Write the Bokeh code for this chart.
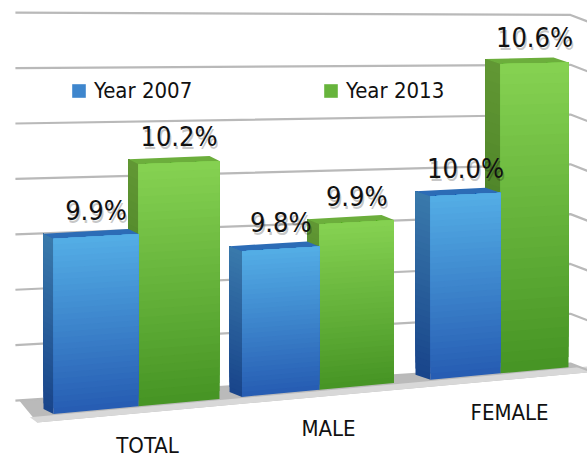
import numpy as np
from bokeh.plotting import figure
from bokeh.models import Range1d, Legend, LegendItem, ColumnDataSource
from bokeh.core.properties import value
from bokeh.embed import file_html
from bokeh.resources import INLINE

# ---------------- data ----------------
categories = ["TOTAL", "MALE", "FEMALE"]
series = ["Year 2007", "Year 2013"]
year2007 = [9.9, 9.8, 10.0]
year2013 = [10.2, 9.9, 10.6]
grid_values = [9.2, 9.4, 9.6, 9.8, 10.0, 10.2, 10.4, 10.6]

# ---------------- style ----------------
FONT = "DejaVu Sans Condensed"
W, H = 587, 459
PX_T = 181.0      # pixels per category step
PX_V = 232.8      # pixels per value unit
X_RANGE = (-138 / PX_T, 449 / PX_T)
Y_RANGE = (8.9315, 10.903)
BASE = 9.16       # floor value of the bars

BLUE_FRONT = ((84, 174, 230), (38, 92, 178))
BLUE_SIDE = ((58, 122, 172), (24, 68, 138))
BLUE_TOP = (44, 108, 182)
GREEN_FRONT = ((134, 210, 82), (70, 148, 36))
GREEN_SIDE = ((98, 152, 52), (56, 110, 28))
GREEN_TOP = (108, 174, 60)


def mix(c1, c2, f):
    return "#%02x%02x%02x" % tuple(int(round(a + (b - a) * f)) for a, b in zip(c1, c2))


def proj(t, v):
    """bar plane: mild perspective tilt"""
    return BASE + (v - BASE) * (1 - 0.0385 * t) + 0.0708 * t


def wall(t, v):
    """back wall plane for gridlines"""
    return 9.2200 + 0.05182 * t + (v - 9.2) * (1.1632 - 0.03924 * t)


p = figure(width=W, height=H, x_range=Range1d(*X_RANGE), y_range=Range1d(*Y_RANGE),
           output_backend="svg", toolbar_location=None, min_border=0)
p.axis.visible = False
p.grid.visible = False
p.outline_line_color = None
p.background_fill_color = "white"
p.border_fill_color = "white"

T_WALL0 = -0.68
T_WALL1 = 2.3867
T_END = X_RANGE[1] + 0.01

# ---------------- floor ----------------
back_t = [-0.66, T_WALL1, T_END]
back_y = [wall(-0.66, 9.2), wall(T_WALL1, 9.2), wall(T_WALL1, 9.2) - (T_END - T_WALL1) * 0.3]
front_t = [T_END, -0.56]
front_y = [proj(T_END, BASE) - 0.03, proj(-0.56, BASE) - 0.03]
p.patch(back_t + front_t, back_y + front_y, fill_color="#bababa", line_color=None)
p.patch([-0.60, T_END, T_END, -0.56],
        [proj(-0.60, BASE) - 0.005, proj(T_END, BASE) - 0.005,
         proj(T_END, BASE) - 0.03, proj(-0.56, BASE) - 0.03],
        fill_color="#d8d8d8", line_color=None)

# ---------------- gridlines ----------------
gx, gy = [], []
for g in grid_values:
    y0 = wall(T_WALL0, g)
    y1 = wall(T_WALL1, g)
    y2 = y1 - (T_END - T_WALL1) * 0.3
    gx.append([T_WALL0, T_WALL1, T_END])
    gy.append([y0, y1, y2])
p.multi_line(gx, gy, line_color="#b9b9b9", line_width=2.2)

# ---------------- bars ----------------
xs, ys, cols = [], [], []
legend_index = {}
N = 30


def add_bar(tl, tr, v, dx, dy, front, side, top, key):
    # side face (left), gradient: each slice spans from its bottom to the bar top,
    # later slices overlay earlier ones -> no seams
    for k in range(N):
        va = BASE + (v - BASE) * k / N
        xs.append([tl, tl, tl + dx, tl + dx])
        ys.append([proj(tl, va), proj(tl, v), proj(tl, v) + dy, proj(tl, va) + dy])
        cols.append(mix(side[1], side[0], (k + 0.5) / N))
    # top face
    xs.append([tl, tr, tr + dx, tl + dx])
    ys.append([proj(tl, v), proj(tr, v), proj(tr, v) + dy, proj(tl, v) + dy])
    cols.append(mix(top, top, 0))
    # front face, gradient
    for k in range(N):
        va = BASE + (v - BASE) * k / N
        xs.append([tl, tr, tr, tl])
        ys.append([proj(tl, va), proj(tr, va), proj(tr, v), proj(tl, v)])
        cols.append(mix(front[1], front[0], (k + 0.5) / N))
        if k == N // 2 and key not in legend_index:
            legend_index[key] = len(xs) - 1


lab_x, lab_y, lab_t = [], [], []
for i, cat in enumerate(categories):
    c = float(i)
    dx = -(10 + 2.5 * c) / PX_T
    dy = 5 / PX_V
    wb = (85 - 7.5 * c) / PX_T
    wg = (81 - 6.5 * c) / PX_T
    # green first (blue bar sits in front of green's left face)
    add_bar(c, c + wg, year2013[i], dx, dy, GREEN_FRONT, GREEN_SIDE, GREEN_TOP, series[1])
    add_bar(c - wb, c, year2007[i], dx, dy, BLUE_FRONT, BLUE_SIDE, BLUE_TOP, series[0])
    for tl, tr, v in ((c - wb, c, year2007[i]), (c, c + wg, year2013[i])):
        tm = (tl + tr) / 2
        lab_x.append(tm)
        lab_y.append(proj(tm, v) + 26 / PX_V)
        lab_t.append(f"{v:.1f}%")

bars = p.patches(xs, ys, fill_color=cols, line_color=None)

# ---------------- value labels ----------------
src = ColumnDataSource(dict(x=lab_x, y=lab_y, t=lab_t))
p.text("x", "y", text="t", source=src, text_font=value(FONT), text_font_size="27px",
       text_align="center", text_baseline="alphabetic", text_color="#000000",
       text_alpha=0.22, x_offset=1.5, y_offset=3)
p.text("x", "y", text="t", source=src, text_font=value(FONT), text_font_size="27px",
       text_align="center", text_baseline="alphabetic", text_color="#111111")

# ---------------- category labels ----------------
cx = [i + 0.05 for i in range(len(categories))]
cy = [proj(i + 0.05, BASE) - 40 / PX_V for i in range(len(categories))]
p.text(cx, cy, text=categories, text_font=value(FONT), text_font_size="22px",
       text_align="center", text_baseline="alphabetic", text_color="#111111")

# ---------------- legend ----------------
legend = Legend(items=[LegendItem(label=series[0], renderers=[bars], index=legend_index[series[0]]),
                       LegendItem(label=series[1], renderers=[bars], index=legend_index[series[1]])],
                orientation="horizontal", location=(70, 356), padding=0, margin=0,
                spacing=0, glyph_width=17, glyph_height=17, label_standoff=7,
                label_width=228, label_text_font=FONT, label_text_font_size="22px",
                label_text_color="#111111", border_line_color=None,
                background_fill_alpha=0)
p.add_layout(legend)

open("out.html", "w").write(file_html(p, INLINE))
